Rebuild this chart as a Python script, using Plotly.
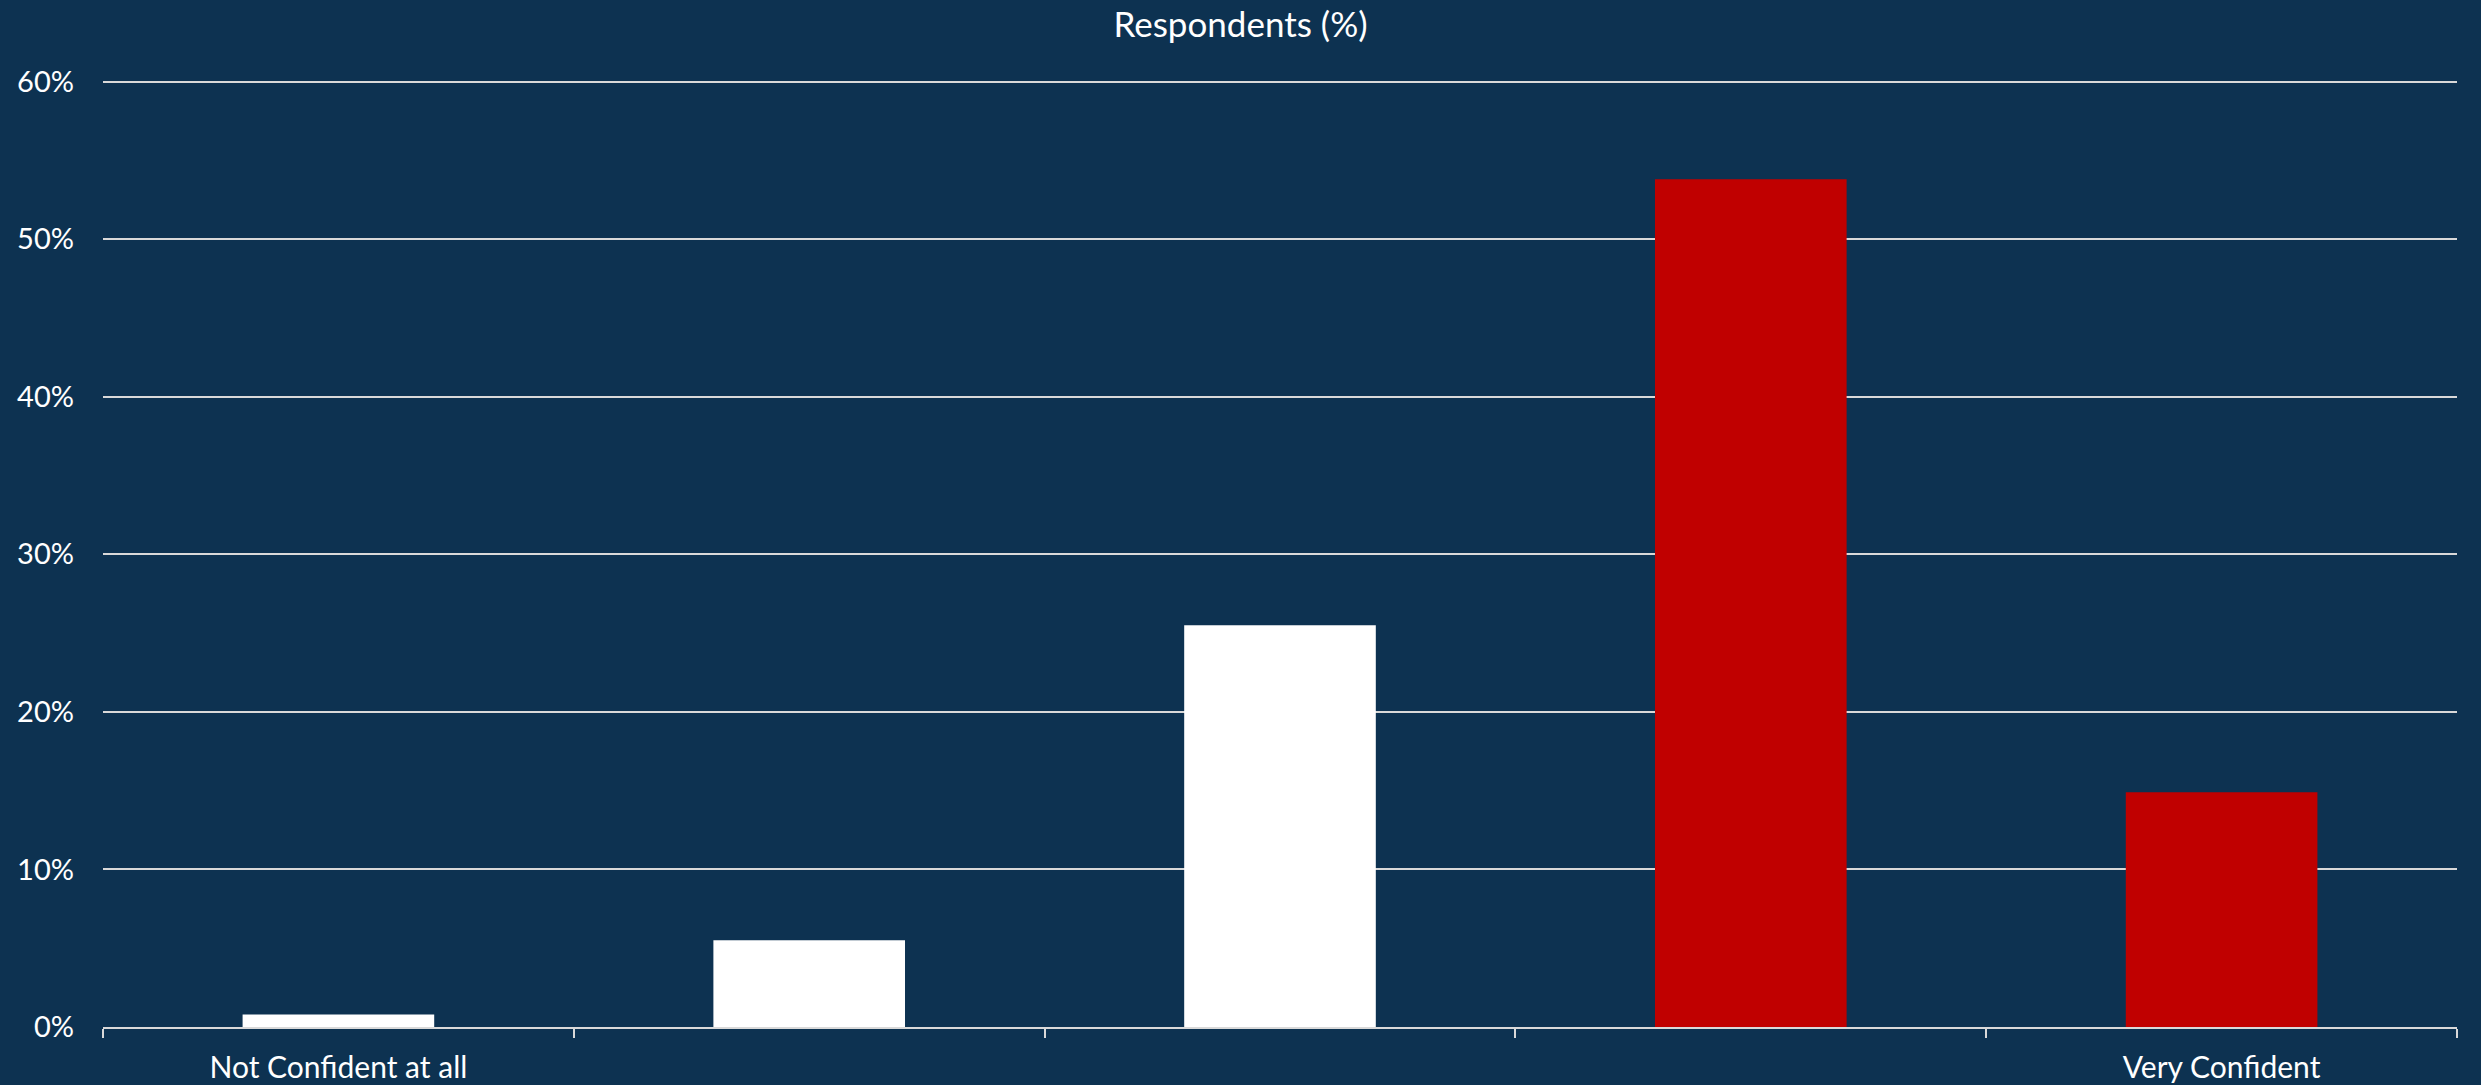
import plotly.graph_objects as go

categories = ["Not Confident at all", "2", "3", "4", "Very Confident"]
tick_labels = ["Not Confident at all", "", "", "", "Very Confident"]
values = [0.8, 5.5, 25.5, 53.8, 14.9]
bar_colors = ["#FFFFFF", "#FFFFFF", "#FFFFFF", "#C00000", "#C00000"]
y_ticks = [0, 10, 20, 30, 40, 50, 60]

BG = "#0D3251"
GRID = "#D9D9D9"
FONT = "Lato"

fig = go.Figure(
    go.Bar(
        x=categories,
        y=values,
        marker=dict(color=bar_colors, line=dict(width=0)),
        hoverinfo="x+y",
    )
)

fig.update_layout(
    width=2481,
    height=1085,
    paper_bgcolor=BG,
    plot_bgcolor=BG,
    margin=dict(l=103, r=24, t=80, b=58),
    bargap=0.593,
    showlegend=False,
    font=dict(family=FONT, color="#FFFFFF", size=30),
    title=dict(
        text="Respondents (%)",
        x=0.5,
        xanchor="center",
        y=1 - 25 / 1085,
        yanchor="middle",
        yref="container",
        font=dict(family=FONT, size=35, color="#FFFFFF"),
    ),
    xaxis=dict(
        type="category",
        categoryorder="array",
        categoryarray=categories,
        tickmode="array",
        tickvals=categories,
        ticktext=tick_labels,
        tickson="boundaries",
        ticks="outside",
        ticklen=9,
        tickwidth=2,
        tickcolor=GRID,
        showline=True,
        linecolor=GRID,
        linewidth=2,
        showgrid=False,
        zeroline=False,
        automargin=False,
        tickfont=dict(family=FONT, size=30, color="#FFFFFF"),
        ticklabelstandoff=13,
    ),
    yaxis=dict(
        range=[0, 60.1],
        tickmode="array",
        tickvals=y_ticks,
        ticktext=[f"{v}%" for v in y_ticks],
        showgrid=True,
        gridcolor=GRID,
        gridwidth=1.5,
        showline=False,
        zeroline=False,
        automargin=False,
        ticks="",
        tickfont=dict(family=FONT, size=29, color="#FFFFFF"),
        ticklabelstandoff=28,
    ),
)

fig.write_html(
    "out.html",
    config={"displayModeBar": False},
    post_script="document.body.style.margin='0';document.body.style.background='" + BG + "';",
)
